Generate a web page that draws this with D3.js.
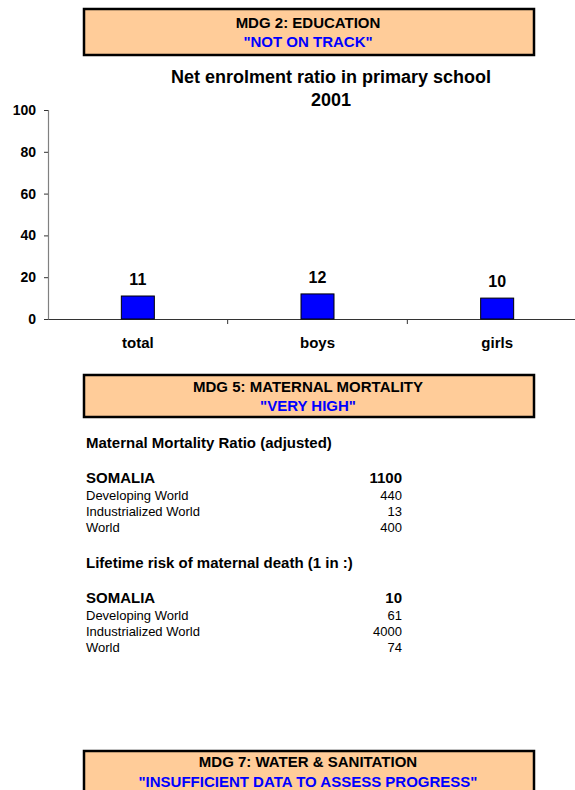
<!DOCTYPE html>
<html>
<head>
<meta charset="utf-8">
<script src="https://d3js.org/d3.v7.min.js"></script>
<style>
  body { margin: 0; background: #fff; }
  svg { font-family: "Liberation Sans", Arial, sans-serif; }
</style>
</head>
<body>
<script>
  // chart data
  var categories = ["total", "boys", "girls"];
  var enrolment = [11, 12, 10];
  var yTicks = [0, 20, 40, 60, 80, 100];

  // MDG banners
  var bannerTitles = ["MDG 2: EDUCATION", "MDG 5: MATERNAL MORTALITY", "MDG 7: WATER & SANITATION"];
  var bannerStatus = ["\"NOT ON TRACK\"", "\"VERY HIGH\"", "\"INSUFFICIENT DATA TO ASSESS PROGRESS\""];

  // maternal mortality tables
  var mmrTitle = "Maternal Mortality Ratio (adjusted)";
  var mmrRows = ["SOMALIA", "Developing World", "Industrialized World", "World"];
  var mmrValues = ["1100", "440", "13", "400"];
  var riskTitle = "Lifetime risk of maternal death (1 in :)";
  var riskRows = ["SOMALIA", "Developing World", "Industrialized World", "World"];
  var riskValues = ["10", "61", "4000", "74"];

  var svg = d3.select("body").append("svg")
      .attr("width", 575)
      .attr("height", 790);

  // banners
  var bannerTops = [9, 375, 751];
  var bannerH = [46, 42, 60];
  var bannerBase = [[28, 47], [392, 411], [767, 787]];
  bannerTops.forEach(function (top, i) {
    svg.append("rect")
      .attr("x", 84).attr("y", top)
      .attr("width", 450).attr("height", bannerH[i])
      .attr("fill", "#ffcc99")
      .attr("stroke", "#000")
      .attr("stroke-width", 2.5);
    svg.append("text")
      .attr("x", 308).attr("y", bannerBase[i][0])
      .attr("text-anchor", "middle")
      .attr("font-size", 15).attr("font-weight", "bold")
      .attr("fill", "#000")
      .text(bannerTitles[i]);
    svg.append("text")
      .attr("x", 308).attr("y", bannerBase[i][1])
      .attr("text-anchor", "middle")
      .attr("font-size", 15).attr("font-weight", "bold")
      .attr("fill", "#0000ff")
      .text(bannerStatus[i]);
  });

  // chart title
  svg.append("text")
    .attr("x", 331).attr("y", 83)
    .attr("text-anchor", "middle")
    .attr("font-size", 18).attr("font-weight", "bold")
    .text("Net enrolment ratio in primary school");
  svg.append("text")
    .attr("x", 331).attr("y", 106)
    .attr("text-anchor", "middle")
    .attr("font-size", 18).attr("font-weight", "bold")
    .text("2001");

  // scales
  var x = d3.scaleBand().domain(categories).range([48, 587]);
  var y = d3.scaleLinear().domain([0, 100]).range([319, 110]);

  var yAxis = svg.append("g")
    .attr("transform", "translate(48,0)")
    .call(d3.axisLeft(y).tickValues(yTicks).tickSize(4).tickPadding(8));
  yAxis.select(".domain").attr("stroke", "#808080").attr("stroke-width", 1.2);
  yAxis.selectAll(".tick line").attr("stroke", "#333");
  yAxis.selectAll("text")
    .attr("font-size", 14).attr("font-weight", "bold")
    .attr("font-family", "Liberation Sans, Arial, sans-serif")
    .attr("fill", "#000");

  var xAxis = svg.append("g")
    .attr("transform", "translate(0,319)")
    .call(d3.axisBottom(x).tickSize(0).tickPadding(18));
  xAxis.select(".domain").attr("stroke", "#333").attr("stroke-width", 1.2);
  xAxis.selectAll("text")
    .attr("font-size", 15).attr("font-weight", "bold")
    .attr("font-family", "Liberation Sans, Arial, sans-serif")
    .attr("fill", "#000");

  // category separator ticks
  svg.selectAll(".sep")
    .data(categories.slice(1))
    .enter().append("line")
    .attr("x1", function (d) { return x(d); })
    .attr("x2", function (d) { return x(d); })
    .attr("y1", 319).attr("y2", 324)
    .attr("stroke", "#333");

  var barW = 33;
  svg.selectAll(".bar")
    .data(enrolment)
    .enter().append("rect")
    .attr("x", function (d, i) { return x(categories[i]) + x.bandwidth() / 2 - barW / 2; })
    .attr("y", function (d) { return y(d); })
    .attr("width", barW)
    .attr("height", function (d) { return y(0) - y(d); })
    .attr("fill", "#0000ff")
    .attr("stroke", "#000")
    .attr("stroke-width", 1);

  svg.selectAll(".val")
    .data(enrolment)
    .enter().append("text")
    .attr("x", function (d, i) { return x(categories[i]) + x.bandwidth() / 2; })
    .attr("y", function (d) { return y(d) - 11; })
    .attr("text-anchor", "middle")
    .attr("font-size", 16).attr("font-weight", "bold")
    .text(function (d) { return d; });

  // maternal mortality tables
  function table(title, rows, values, titleY) {
    svg.append("text")
      .attr("x", 86).attr("y", titleY)
      .attr("font-size", 15).attr("font-weight", "bold")
      .text(title);
    var rowY = [titleY + 35, titleY + 52, titleY + 68, titleY + 84];
    rows.forEach(function (r, i) {
      var head = i === 0;
      svg.append("text")
        .attr("x", 86).attr("y", rowY[i])
        .attr("font-size", head ? 15 : 13)
        .attr("font-weight", head ? "bold" : "normal")
        .text(r);
      svg.append("text")
        .attr("x", 402).attr("y", rowY[i])
        .attr("text-anchor", "end")
        .attr("font-size", head ? 15 : 13)
        .attr("font-weight", head ? "bold" : "normal")
        .text(values[i]);
    });
  }
  table(mmrTitle, mmrRows, mmrValues, 448);
  table(riskTitle, riskRows, riskValues, 568);
</script>
</body>
</html>
